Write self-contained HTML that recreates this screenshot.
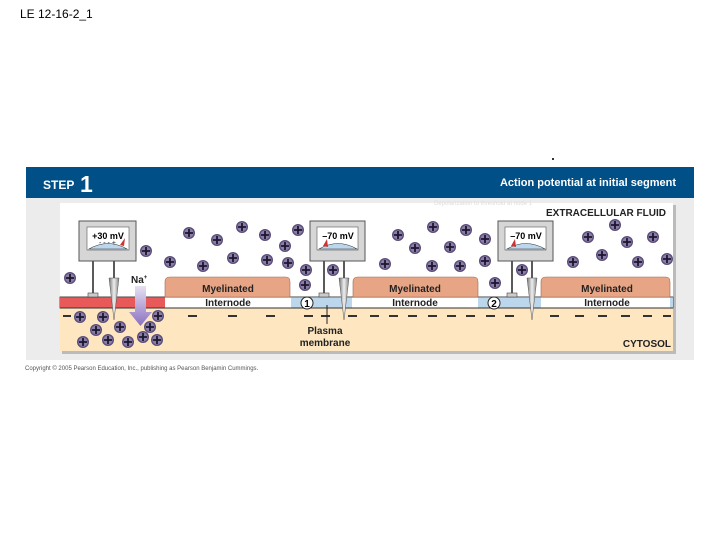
<!DOCTYPE html>
<html><head><meta charset="utf-8"><style>
html,body{margin:0;padding:0;background:#fff;width:720px;height:540px;overflow:hidden}
svg{display:block;font-family:"Liberation Sans",Arial,sans-serif}
</style></head><body>
<svg width="720" height="540" viewBox="0 0 720 540" xmlns="http://www.w3.org/2000/svg">
<defs>
<g id="ion"><circle r="6" fill="#5a4d7a"/><circle r="4.6" fill="#8a7fa6"/><path d="M-4 0H4M0 -4V4" stroke="#1e1630" stroke-width="1.8"/></g>
<linearGradient id="na" x1="0" y1="0" x2="0" y2="1"><stop offset="0" stop-color="#e6e0f2"/><stop offset="1" stop-color="#8a6fc0"/></linearGradient>
<linearGradient id="ndl" x1="0" x2="1"><stop offset="0" stop-color="#777"/><stop offset="0.5" stop-color="#eee"/><stop offset="1" stop-color="#888"/></linearGradient>
</defs>
<text x="20" y="18" font-size="12" fill="#000">LE 12-16-2_1</text>
<rect x="552" y="158" width="2" height="2" fill="#333"/>
<!-- header -->
<rect x="26" y="167" width="668" height="31" fill="#005087"/>
<text x="43" y="189" font-size="12" font-weight="bold" fill="#fff">STEP</text>
<text x="80" y="192" font-size="23" font-weight="bold" fill="#fff">1</text>
<text x="676" y="186" font-size="11" font-weight="bold" fill="#fff" text-anchor="end">Action potential at initial segment</text>
<!-- panel -->
<rect x="26" y="198" width="668" height="162" fill="#ececec"/>
<rect x="62" y="205" width="614" height="149" fill="#bbb"/>
<rect x="60" y="203" width="613" height="148" fill="#fff"/>
<text x="434" y="205" font-size="6" fill="#ddd">Depolarization to threshold at node 1</text>
<!-- cytosol -->
<rect x="60" y="308" width="613" height="43" fill="#fde6c0"/>
<!-- membrane -->
<rect x="60" y="297" width="613" height="11" fill="#fff" stroke="#333" stroke-width="0.8"/>
<rect x="60" y="297" width="105" height="11" fill="#e85a5a"/>
<rect x="291" y="297" width="61" height="11" fill="#bcd6ec"/>
<rect x="478" y="297" width="63" height="11" fill="#bcd6ec"/>
<rect x="670" y="297" width="3" height="11" fill="#bcd6ec"/>
<line x1="60" y1="297" x2="673" y2="297" stroke="#444" stroke-width="0.8"/>
<line x1="60" y1="308" x2="673" y2="308" stroke="#333" stroke-width="1"/>
<!-- myelin -->
<path d="M165 297V282Q165 277 170 277H286Q290 277 290 282V297Z" fill="#e8a585" stroke="#a06a50" stroke-width="0.6"/>
<path d="M353 297V282Q353 277 358 277H474Q478 277 478 282V297Z" fill="#e8a585" stroke="#a06a50" stroke-width="0.6"/>
<path d="M541 297V282Q541 277 546 277H666Q670 277 670 282V297Z" fill="#e8a585" stroke="#a06a50" stroke-width="0.6"/>
<g font-size="10" font-weight="bold" fill="#222" text-anchor="middle">
<text x="228" y="292">Myelinated</text><text x="228" y="306">Internode</text>
<text x="415" y="292">Myelinated</text><text x="415" y="306">Internode</text>
<text x="607" y="292">Myelinated</text><text x="607" y="306">Internode</text>
</g>
<circle cx="307" cy="303" r="6" fill="#fff" stroke="#222"/><text x="307" y="307" font-size="10" font-weight="bold" text-anchor="middle">1</text>
<circle cx="494" cy="303" r="6" fill="#fff" stroke="#222"/><text x="494" y="307" font-size="10" font-weight="bold" text-anchor="middle">2</text>
<!-- dashes -->
<g stroke="#333" stroke-width="2">
<line x1="63" y1="316" x2="71" y2="316"/>
<line x1="188" y1="316" x2="197" y2="316"/><line x1="228" y1="316" x2="237" y2="316"/><line x1="266" y1="316" x2="275" y2="316"/><line x1="304" y1="316" x2="313" y2="316"/>
<line x1="321" y1="316" x2="330" y2="316"/><line x1="348" y1="316" x2="357" y2="316"/><line x1="370" y1="316" x2="379" y2="316"/><line x1="389" y1="316" x2="398" y2="316"/><line x1="408" y1="316" x2="417" y2="316"/><line x1="428" y1="316" x2="437" y2="316"/><line x1="447" y1="316" x2="456" y2="316"/><line x1="466" y1="316" x2="475" y2="316"/><line x1="486" y1="316" x2="495" y2="316"/><line x1="505" y1="316" x2="514" y2="316"/><line x1="550" y1="316" x2="559" y2="316"/><line x1="575" y1="316" x2="584" y2="316"/><line x1="598" y1="316" x2="607" y2="316"/><line x1="621" y1="316" x2="630" y2="316"/><line x1="643" y1="316" x2="652" y2="316"/><line x1="663" y1="316" x2="671" y2="316"/>
</g>
<text x="666" y="216" font-size="10" font-weight="bold" fill="#222" text-anchor="end">EXTRACELLULAR FLUID</text>
<text x="671" y="347" font-size="10" font-weight="bold" fill="#222" text-anchor="end">CYTOSOL</text>
<text x="325" y="334" font-size="10" font-weight="bold" fill="#222" text-anchor="middle">Plasma</text>
<text x="325" y="346" font-size="10" font-weight="bold" fill="#222" text-anchor="middle">membrane</text>
<line x1="327" y1="305" x2="327" y2="324" stroke="#222"/>
<!-- Na arrow -->
<text x="131" y="283" font-size="10" font-weight="bold" fill="#222">Na<tspan font-size="6" dy="-4">+</tspan></text>
<path d="M135 286H146V312H152L140.5 326L129 312H135Z" fill="url(#na)"/>
<!-- meters -->
<g id="m1">
<line x1="93" y1="260" x2="93" y2="294" stroke="#222" stroke-width="1.5"/>
<rect x="88" y="293" width="10" height="4" fill="#ccc" stroke="#444" stroke-width="0.6"/>
<line x1="114" y1="260" x2="114" y2="278" stroke="#222" stroke-width="1.5"/>
<path d="M109 278H119L114 320Z" fill="url(#ndl)" stroke="#555" stroke-width="0.5"/>
<rect x="79" y="221" width="57" height="40" fill="#d6d6d6" stroke="#555"/>
<rect x="87" y="227" width="42" height="23" fill="#fff" stroke="#555" stroke-width="0.6"/>
<path d="M89 249Q108 238 127 249Z" fill="#bcd6ec" stroke="#333" stroke-width="0.6"/>
<path d="M120 245L125 238L124 246Z" fill="#c33"/>
</g>
<text x="108" y="239" font-size="9" font-weight="bold" text-anchor="middle">+30 mV</text>
<text x="99" y="245" font-size="7" fill="#222">- - - +</text>
<g transform="translate(231,0)">
<line x1="93" y1="260" x2="93" y2="294" stroke="#222" stroke-width="1.5"/>
<rect x="88" y="293" width="10" height="4" fill="#ccc" stroke="#444" stroke-width="0.6"/>
<line x1="113" y1="260" x2="113" y2="278" stroke="#222" stroke-width="1.5"/>
<path d="M108 278H118L113 320Z" fill="url(#ndl)" stroke="#555" stroke-width="0.5"/>
<rect x="79" y="221" width="55" height="40" fill="#d6d6d6" stroke="#555"/>
<rect x="86" y="227" width="41" height="23" fill="#fff" stroke="#555" stroke-width="0.6"/>
<path d="M88 249Q107 238 126 249Z" fill="#bcd6ec" stroke="#333" stroke-width="0.6"/>
<path d="M92 246L96 239L97 247Z" fill="#c33"/>
<text x="107" y="239" font-size="9" font-weight="bold" text-anchor="middle">–70 mV</text>
</g>
<g transform="translate(419,0)">
<line x1="93" y1="260" x2="93" y2="294" stroke="#222" stroke-width="1.5"/>
<rect x="88" y="293" width="10" height="4" fill="#ccc" stroke="#444" stroke-width="0.6"/>
<line x1="113" y1="260" x2="113" y2="278" stroke="#222" stroke-width="1.5"/>
<path d="M108 278H118L113 320Z" fill="url(#ndl)" stroke="#555" stroke-width="0.5"/>
<rect x="79" y="221" width="55" height="40" fill="#d6d6d6" stroke="#555"/>
<rect x="86" y="227" width="41" height="23" fill="#fff" stroke="#555" stroke-width="0.6"/>
<path d="M88 249Q107 238 126 249Z" fill="#bcd6ec" stroke="#333" stroke-width="0.6"/>
<path d="M92 246L96 239L97 247Z" fill="#c33"/>
<text x="107" y="239" font-size="9" font-weight="bold" text-anchor="middle">–70 mV</text>
</g>
<!-- ions -->
<use href="#ion" x="70" y="278"/><use href="#ion" x="146" y="251"/><use href="#ion" x="170" y="262"/><use href="#ion" x="189" y="233"/><use href="#ion" x="203" y="266"/><use href="#ion" x="217" y="240"/><use href="#ion" x="233" y="258"/><use href="#ion" x="242" y="227"/><use href="#ion" x="265" y="235"/><use href="#ion" x="267" y="260"/><use href="#ion" x="285" y="246"/><use href="#ion" x="288" y="263"/><use href="#ion" x="298" y="230"/><use href="#ion" x="306" y="270"/><use href="#ion" x="305" y="285"/><use href="#ion" x="333" y="270"/>
<use href="#ion" x="80" y="317"/><use href="#ion" x="103" y="317"/><use href="#ion" x="120" y="327"/><use href="#ion" x="96" y="330"/><use href="#ion" x="83" y="342"/><use href="#ion" x="108" y="340"/><use href="#ion" x="128" y="342"/><use href="#ion" x="143" y="337"/><use href="#ion" x="150" y="327"/><use href="#ion" x="157" y="340"/><use href="#ion" x="158" y="316"/>
<use href="#ion" x="398" y="235"/><use href="#ion" x="433" y="227"/><use href="#ion" x="466" y="230"/><use href="#ion" x="485" y="239"/><use href="#ion" x="415" y="248"/><use href="#ion" x="450" y="247"/><use href="#ion" x="385" y="264"/><use href="#ion" x="432" y="266"/><use href="#ion" x="460" y="266"/><use href="#ion" x="485" y="261"/><use href="#ion" x="522" y="270"/><use href="#ion" x="495" y="283"/>
<use href="#ion" x="615" y="225"/><use href="#ion" x="588" y="237"/><use href="#ion" x="653" y="237"/><use href="#ion" x="627" y="242"/><use href="#ion" x="602" y="255"/><use href="#ion" x="573" y="262"/><use href="#ion" x="638" y="262"/><use href="#ion" x="667" y="259"/>
<text x="25" y="370" font-size="6" fill="#555">Copyright © 2005 Pearson Education, Inc., publishing as Pearson Benjamin Cummings.</text>
</svg>
</body></html>
